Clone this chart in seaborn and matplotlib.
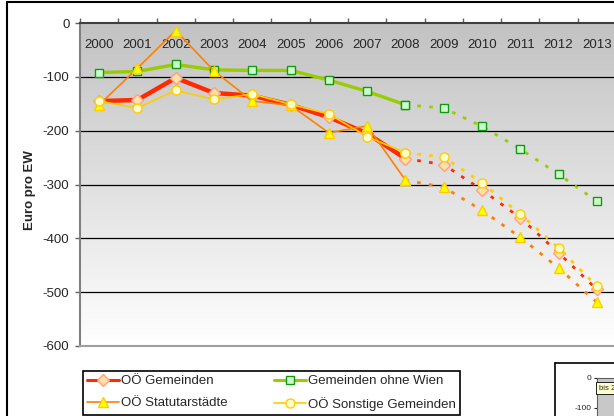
import numpy as np
import pandas as pd
import matplotlib
matplotlib.use('Agg')
import matplotlib.pyplot as plt
import seaborn as sns
from matplotlib.lines import Line2D
from matplotlib.colors import LinearSegmentedColormap

# data (Euro pro EW), 2009-2013 = forecast (dotted)
years = list(range(2000, 2014))
gemeinden = [-145, -143, -102, -130, -135, -152, -175, -205, -252, -263, -310, -362, -427, -495]
ohne_wien = [-92, -90, -77, -87, -88, -88, -106, -127, -152, -158, -192, -234, -281, -331]
statutar = [-152, -84, -14, -89, -145, -153, -204, -191, -292, -305, -348, -398, -455, -519]
sonstige = [-145, -158, -125, -142, -132, -151, -169, -211, -241, -249, -297, -355, -418, -489]
labels = ["OÖ Gemeinden", "Gemeinden ohne Wien", "OÖ Statutarstädte", "OÖ Sonstige Gemeinden"]
split = 8  # index of 2008, last actual year

sns.set_style("white")
plt.rcParams['font.family'] = ['Liberation Sans', 'DejaVu Sans']
plt.rcParams['axes.unicode_minus'] = False

W, H = 614, 416
fig = plt.figure(figsize=(W / 100, H / 100), dpi=100)
ax = fig.add_axes([80 / W, 1 - 346 / H, 536 / W, 323 / H])

x = np.arange(len(years))

# grey to white background
cmap = LinearSegmentedColormap.from_list('bg', ['#c2c2c2', '#ffffff'])
ax.imshow(np.linspace(0, 1, 256).reshape(-1, 1), cmap=cmap, extent=[0, 1, 0, 1],
          transform=ax.transAxes, aspect='auto', zorder=0)
for v in range(-500, 0, 100):
    ax.axhline(v, color='black', lw=0.9, zorder=1)

styles = [
    # values, line colour, lw, marker, size, face, edge
    (gemeinden, '#ff2a00', 3.2, 'D', 6.5, '#ffe0a8', '#ffa080'),
    (ohne_wien, '#99cc00', 2.4, 's', 6.0, '#ccffcc', '#119911'),
    (statutar, '#ff8000', 1.2, '^', 7.0, '#ffff00', '#ffcc00'),
    (sonstige, '#ffcc00', 1.2, 'o', 6.5, '#ffffcc', '#ffcc00'),
]

handles = []
for (vals, col, lw, mk, ms, mfc, mec), lab in zip(styles, labels):
    df = pd.DataFrame({'x': x, 'y': vals})
    kw = dict(color=col, marker=mk, markersize=ms, markerfacecolor=mfc,
              markeredgecolor=mec, markeredgewidth=1.0, ax=ax, zorder=3)
    sns.lineplot(data=df.iloc[:split + 1], x='x', y='y', lw=lw, **kw)
    sns.lineplot(data=df.iloc[split:], x='x', y='y', lw=2.0,
                 linestyle=(0, (1.3, 3.0)), **kw)
    handles.append(Line2D([], [], color=col, lw=min(lw, 2.2), marker=mk, markersize=ms,
                          markerfacecolor=mfc, markeredgecolor=mec, label=lab))

ax.set_xlim(-0.5, 13.5)
ax.set_ylim(-600, 0)
ax.set_xlabel('')
ax.set_ylabel('')

# year labels inside the plot, under the top axis line
ax.xaxis.set_ticks_position('top')
ax.set_xticks(x)
ax.set_xticklabels([str(y) for y in years])
ax.set_xticks(np.arange(-0.5, 14, 1), minor=True)
ax.tick_params(axis='x', which='major', length=0, pad=-20.5, labelsize=9.5,
               labeltop=True, labelbottom=False)
ax.tick_params(axis='x', which='minor', length=3.5, width=1, color='#606060', top=True)

ax.set_yticks(range(-600, 1, 100))
ax.tick_params(axis='y', which='major', left=True, length=3.6, width=1, color='#606060',
               pad=4, labelsize=9.5)

for s, c in [('left', '#808080'), ('bottom', '#a0a0a0'), ('top', '#404040')]:
    ax.spines[s].set_color(c)
    ax.spines[s].set_linewidth(1.5)
ax.spines['right'].set_visible(False)

fig.text(30 / W, 1 - 190 / H, 'Euro pro EW', rotation=90, ha='center', va='center',
         fontsize=9.5, fontweight='bold')

order = [handles[0], handles[2], handles[1], handles[3]]
leg = fig.legend(handles=order, loc='upper left', bbox_to_anchor=(83 / W, 1 - 371 / H),
                 ncol=2, fontsize=9.5, frameon=True, fancybox=False, edgecolor='black',
                 framealpha=1, handlelength=2.4, handletextpad=0.2, columnspacing=3.5,
                 labelspacing=0.75, borderpad=0.3, borderaxespad=0)
leg.get_frame().set_linewidth(1.2)

# outer chart frame
fig.add_artist(Line2D([7 / W, 7 / W], [0, 1 - 2 / H], color='black', lw=1.5,
                      transform=fig.transFigure))
fig.add_artist(Line2D([7 / W, 1], [1 - 2 / H, 1 - 2 / H], color='black', lw=1.5,
                      transform=fig.transFigure))

# second (cut off) chart at the lower right
fig.add_artist(Line2D([555 / W, 1], [1 - 363 / H, 1 - 363 / H], color='black', lw=1.2,
                      transform=fig.transFigure))
fig.add_artist(Line2D([555 / W, 555 / W], [0, 1 - 363 / H], color='black', lw=1.2,
                      transform=fig.transFigure))
ax2 = fig.add_axes([597 / W, 1 - 450 / H, 43 / W, 72 / H])
ax2.set_facecolor('#c8c8c8')
ax2.set_ylim(-240, 0)
ax2.set_xlim(0, 1)
ax2.set_xticks([])
ax2.set_yticks([0, -100])
ax2.tick_params(axis='y', length=2.5, labelsize=6, pad=1.5, left=True)
for s in ax2.spines.values():
    s.set_color('#606060')
ax2.text(0.04, 0.86, 'bis 2', fontsize=5.5, va='center', ha='left', transform=ax2.transAxes,
         bbox=dict(boxstyle='square,pad=0.3', facecolor='#ffffcc', edgecolor='black', lw=0.6))

fig.savefig('out.png', dpi=100)
